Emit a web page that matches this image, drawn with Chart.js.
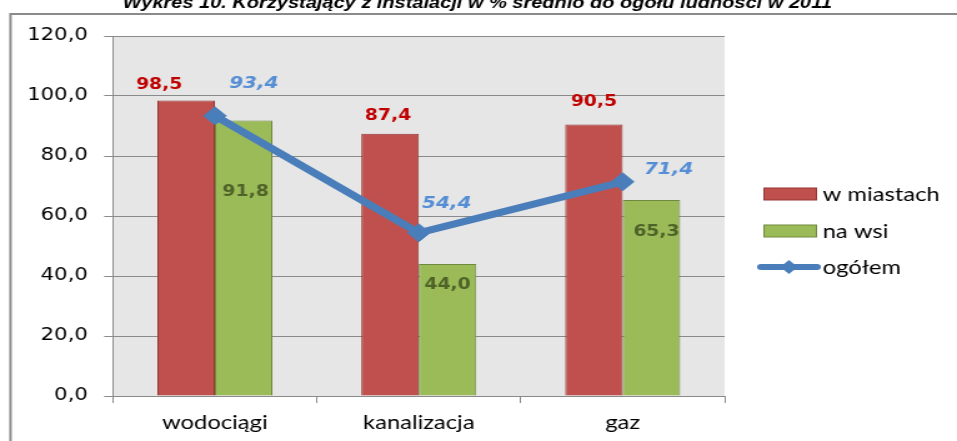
<!DOCTYPE html>
<html>
<head>
<meta charset="utf-8">
<script src="https://cdn.jsdelivr.net/npm/chart.js@4"></script>
<style>
  html, body { margin: 0; padding: 0; background: #fff; overflow: hidden; }
</style>
</head>
<body>
<!-- the original picture is stretched sideways, so the canvas is too -->
<canvas id="chart" width="766" height="441" style="display:block;width:957px;height:441px"></canvas>
<script>
// dane
const categories = ["wodociągi", "kanalizacja", "gaz"];
const wMiastach = [98.5, 87.4, 90.5];
const naWsi = [91.8, 44.0, 65.3];
const ogolem = [93.4, 54.4, 71.4];
const yTicks = [0, 20, 40, 60, 80, 100, 120];

const seriesNames = ["w miastach", "na wsi", "ogółem"];
const title = "Wykres 10. Korzystający z instalacji w % średnio do ogółu ludności w 2011";

const SX = 1.25; // horizontal stretch of the canvas
const fmt = (v) => v.toFixed(1).replace(".", ",");

// label offsets (screen px) measured on the reference, per point
const labelOffsets = [
    { dx: [-27, -2, 0], dy: [-15, -18, -22] }, // red, from top of bar
    { dx: [2, 0, 5], dy: [72, 21, 32] },       // green, from top of bar
    { dx: [39, 28, 46], dy: [-32, -29, -12] }, // blue, from point
];
const labelColors = ["#c00000", "#4f6228", "#558ed5"];
const labelFonts = [
    "bold 15px 'DejaVu Sans'",
    "bold 15px 'DejaVu Sans'",
    "italic bold 16px 'DejaVu Sans'",
];

// frame, title and grey plot background
const background = {
    id: "background",
    beforeDraw(chart) {
        const { ctx, chartArea: { left, top, right, bottom } } = chart;
        ctx.save();
        ctx.fillStyle = "#e6e6e6";
        ctx.fillRect(left, top, right - left, bottom - top);
        ctx.strokeStyle = "#8a8a8a";
        ctx.lineWidth = 2;
        ctx.beginPath();
        ctx.moveTo(8.4, 441);
        ctx.lineTo(8.4, 14);
        ctx.lineTo(chart.width, 14);
        ctx.stroke();
        // title is cut off at the top in the original
        ctx.fillStyle = "#000";
        ctx.font = "bold italic 16px 'Liberation Sans'";
        ctx.textAlign = "center";
        ctx.textBaseline = "alphabetic";
        ctx.fillText(title, 382, 7.5);
        ctx.restore();
    },
};

// value labels placed like in the Excel original
const valueLabels = {
    id: "valueLabels",
    afterDatasetsDraw(chart) {
        const ctx = chart.ctx;
        ctx.save();
        ctx.textAlign = "center";
        ctx.textBaseline = "middle";
        chart.data.datasets.forEach((ds, di) => {
            const meta = chart.getDatasetMeta(di);
            meta.data.forEach((el, i) => {
                const off = labelOffsets[di];
                ctx.fillStyle = labelColors[di];
                ctx.font = labelFonts[di];
                ctx.fillText(fmt(ds.data[i]), el.x + off.dx[i] / SX, el.y + off.dy[i]);
            });
        });
        ctx.restore();
    },
};

// legend on the right, drawn like Excel (line + diamond for ogółem)
const sideLegend = {
    id: "sideLegend",
    afterDraw(chart) {
        const ctx = chart.ctx;
        const ds = chart.data.datasets;
        const boxX = 611.5, boxW = 42, textX = 658.5;
        const rows = [194, 231, 267];
        ctx.save();
        ctx.font = "19px Lato";
        ctx.textBaseline = "middle";
        ctx.textAlign = "left";
        for (let i = 0; i < 2; i++) {
            ctx.fillStyle = ds[i].backgroundColor;
            ctx.strokeStyle = ds[i].borderColor;
            ctx.lineWidth = 1;
            ctx.fillRect(boxX, rows[i] - 6, boxW, 12);
            ctx.strokeRect(boxX, rows[i] - 6, boxW, 12);
        }
        ctx.strokeStyle = ds[2].borderColor;
        ctx.lineWidth = 6;
        ctx.lineCap = "round";
        ctx.beginPath();
        ctx.moveTo(609, rows[2]);
        ctx.lineTo(654, rows[2]);
        ctx.stroke();
        ctx.fillStyle = ds[2].borderColor;
        ctx.beginPath();
        ctx.moveTo(631.5 - 7, rows[2]);
        ctx.lineTo(631.5, rows[2] - 7);
        ctx.lineTo(631.5 + 7, rows[2]);
        ctx.lineTo(631.5, rows[2] + 7);
        ctx.closePath();
        ctx.fill();
        ctx.fillStyle = "#000";
        seriesNames.forEach((name, i) => ctx.fillText(name, textX, rows[i] + 1));
        ctx.restore();
    },
};

const data = {
    labels: categories,
    datasets: [
        {
            type: "bar",
            label: seriesNames[0],
            data: wMiastach,
            backgroundColor: "#c0504d",
            borderColor: "#943634",
            borderWidth: 1,
            order: 2,
        },
        {
            type: "bar",
            label: seriesNames[1],
            data: naWsi,
            backgroundColor: "#9bbb59",
            borderColor: "#71893f",
            borderWidth: 1,
            order: 2,
        },
        {
            type: "line",
            label: seriesNames[2],
            data: ogolem,
            borderColor: "#4a7ebb",
            backgroundColor: "#4a7ebb",
            borderWidth: 7,
            pointStyle: "rectRot",
            pointRadius: 9,
            pointBorderWidth: 1,
            tension: 0,
            order: 1,
        },
    ],
};

const config = {
    type: "bar",
    data: data,
    options: {
        responsive: false,
        animation: false,
        categoryPercentage: 0.564,
        barPercentage: 1.0,
        layout: {
            padding: { top: 36, right: 186, left: 0, bottom: 0 },
        },
        plugins: {
            legend: { display: false },
            tooltip: { enabled: false },
        },
        scales: {
            x: {
                offset: true,
                grid: {
                    offset: true,
                    drawOnChartArea: false,
                    drawTicks: true,
                    tickLength: 7,
                    color: "#8a8a8a",
                },
                border: { color: "#8a8a8a", width: 1 },
                ticks: {
                    color: "#000",
                    padding: 8,
                    font: { family: "Lato", size: 19 },
                },
                afterFit(scale) {
                    scale.height = 45;
                },
            },
            y: {
                min: 0,
                max: 120,
                afterBuildTicks(scale) {
                    scale.ticks = yTicks.map((v) => ({ value: v }));
                },
                grid: {
                    color: "#8a8a8a",
                    tickLength: 7,
                },
                border: { color: "#8a8a8a", width: 1 },
                ticks: {
                    color: "#000",
                    padding: 13,
                    font: { family: "DejaVu Sans", size: 17 },
                    callback: (v) => fmt(v),
                },
                afterFit(scale) {
                    scale.width = 90.4;
                },
            },
        },
    },
    plugins: [background, valueLabels, sideLegend],
};

var ctx = document.getElementById("chart").getContext("2d");
var chart = new Chart(ctx, config);
</script>
</body>
</html>
